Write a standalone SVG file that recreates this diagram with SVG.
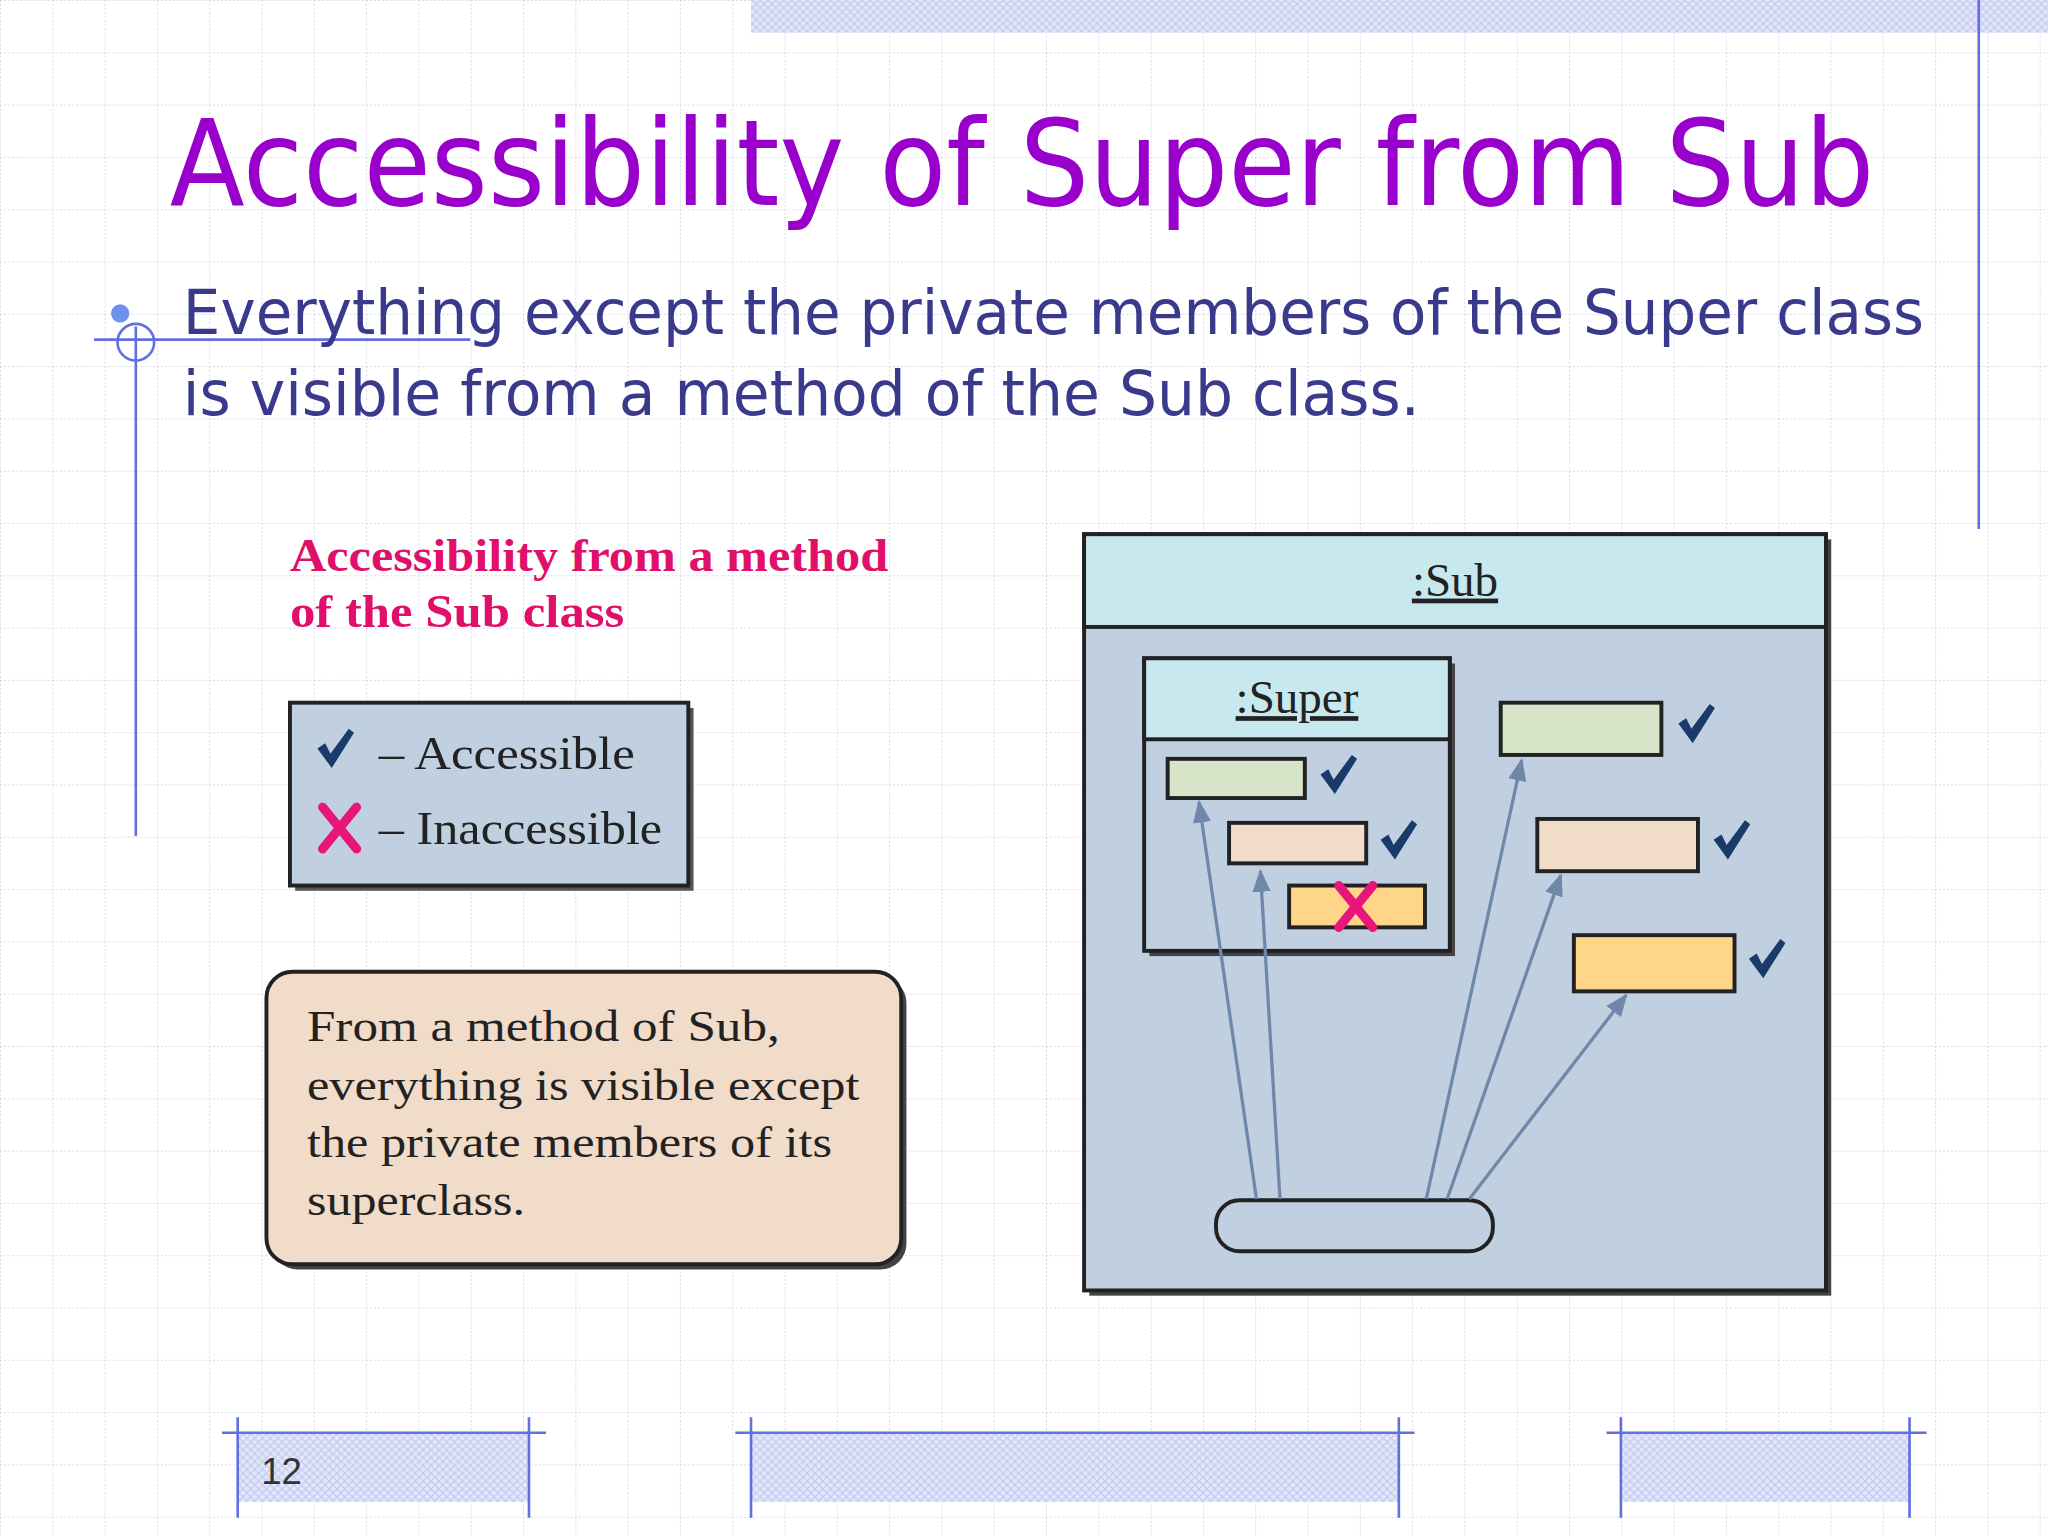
<svg xmlns="http://www.w3.org/2000/svg" width="2048" height="1536" viewBox="0 0 2048 1536">
<defs>
<pattern id="grid" width="52.3" height="52.3" patternUnits="userSpaceOnUse">
<path d="M0 0.5H52.3M0.5 0V52.3" stroke="#D4D8EC" stroke-width="1" stroke-dasharray="2 2" fill="none"/>
</pattern>
<pattern id="hatch" width="6" height="6" patternUnits="userSpaceOnUse">
<rect width="6" height="6" fill="#E4E8FA"/>
<path d="M0 6L6 0M0 0L6 6" stroke="#C4CCF0" stroke-width="1"/>
</pattern>
<path id="chk" d="M0 15 L6 11 L10 19 L24 0 L28 3 L11 30 Z" fill="#1A3A6A"/>
<g id="xx"><path d="M-13 -16 L13 16 M13 -16 L-13 16" stroke="#E8157A" stroke-width="7" stroke-linecap="round"/></g>
<marker id="ah" viewBox="0 0 10 10" refX="9" refY="5" markerWidth="7" markerHeight="7" orient="auto"><path d="M0 1L10 5L0 9Z" fill="#6F87A8"/></marker>
<style>
.box{stroke:#222;stroke-width:3}
.ser{font-family:"Liberation Serif",serif;fill:#222}
.arr{stroke:#6F87A8;stroke-width:2.5;fill:none;marker-end:url(#ah)}
.bl{stroke:#6070E0;stroke-width:2;fill:none}
</style>
</defs>
<rect width="2048" height="1536" fill="#fff"/>
<rect width="2048" height="1536" fill="url(#grid)"/>
<g transform="scale(1.30612)">
<g id="decor">
<rect x="575" y="0" width="993" height="25" fill="url(#hatch)"/>
<line x1="1515" y1="0" x2="1515" y2="405" class="bl"/>
<circle cx="92" cy="240" r="7" fill="#7090F0"/>
<line x1="72" y1="260" x2="360" y2="260" class="bl"/>
<line x1="104" y1="250" x2="104" y2="640" class="bl"/>
<circle cx="104" cy="262" r="14" class="bl"/>
<rect x="182" y="1097" width="223" height="53" fill="url(#hatch)"/>
<path d="M170 1097H418M182 1085V1162M405 1085V1162" class="bl"/>
<rect x="575" y="1097" width="496" height="53" fill="url(#hatch)"/>
<path d="M563 1097H1083M575 1085V1162M1071 1085V1162" class="bl"/>
<rect x="1241" y="1097" width="221" height="53" fill="url(#hatch)"/>
<path d="M1230 1097H1475M1241 1085V1162M1462 1085V1162" class="bl"/>
<text x="200" y="1136" font-family="Liberation Sans,sans-serif" font-size="28" fill="#333">12</text>
</g>
<text x="130" y="157" font-family="DejaVu Sans,sans-serif" font-size="92" fill="#9900CC" textLength="1305" lengthAdjust="spacingAndGlyphs">Accessibility of Super from Sub</text>
<text x="140" y="256" font-family="DejaVu Sans,sans-serif" font-size="48" fill="#3A3A8C" textLength="1333" lengthAdjust="spacingAndGlyphs">Everything except the private members of the Super class</text>
<text x="140" y="318" font-family="DejaVu Sans,sans-serif" font-size="48" fill="#3A3A8C" textLength="947" lengthAdjust="spacingAndGlyphs">is visible from a method of the Sub class.</text>
<g id="heading" font-family="Liberation Serif,serif" font-weight="bold" font-size="35" fill="#E0106A">
<text x="222" y="437" textLength="458" lengthAdjust="spacingAndGlyphs">Accessibility from a method</text>
<text x="222" y="480" textLength="256" lengthAdjust="spacingAndGlyphs">of the Sub class</text>
</g>
<g id="legend">
<rect x="226" y="542" width="305" height="140" fill="#555"/>
<rect x="222" y="538" width="305" height="140" fill="#C0D0E0" class="box"/>
<use href="#chk" x="243" y="558"/>
<use href="#xx" x="260" y="634"/>
<text x="290" y="589" class="ser" font-size="36" textLength="196" lengthAdjust="spacingAndGlyphs">– Accessible</text>
<text x="290" y="646" class="ser" font-size="36" textLength="217" lengthAdjust="spacingAndGlyphs">– Inaccessible</text>
</g>
<g id="note">
<rect x="208" y="748" width="486" height="224" rx="20" fill="#444"/>
<rect x="204" y="744" width="486" height="224" rx="20" fill="#F0DCC8" class="box"/>
<g class="ser" font-size="34">
<text x="235" y="797" textLength="362" lengthAdjust="spacingAndGlyphs">From a method of Sub,</text>
<text x="235" y="842" textLength="423" lengthAdjust="spacingAndGlyphs">everything is visible except</text>
<text x="235" y="886" textLength="402" lengthAdjust="spacingAndGlyphs">the private members of its</text>
<text x="235" y="930" textLength="167" lengthAdjust="spacingAndGlyphs">superclass.</text>
</g>
</g>
<g id="sub">
<rect x="834" y="413" width="568" height="579" fill="#444"/>
<rect x="830" y="409" width="568" height="579" fill="#C0D0E0" class="box"/>
<rect x="830" y="409" width="568" height="71" fill="#C8E8F0" class="box"/>
<text x="1114" y="456" text-anchor="middle" class="ser" font-size="36" text-decoration="underline">:Sub</text>
</g>
<g id="super">
<rect x="880" y="508" width="234" height="224" fill="#444"/>
<rect x="876" y="504" width="234" height="224" fill="#C0D0E0" class="box"/>
<rect x="876" y="504" width="234" height="62" fill="#C8E8F0" class="box"/>
<text x="993" y="546" text-anchor="middle" class="ser" font-size="36" text-decoration="underline">:Super</text>
</g>
<g id="members">
<rect x="894" y="581" width="105" height="30" fill="#D8E4C8" class="box"/>
<use href="#chk" x="1011" y="578"/>
<rect x="941" y="630" width="105" height="31" fill="#F0DCC8" class="box"/>
<use href="#chk" x="1057" y="628"/>
<rect x="987" y="678" width="104" height="32" fill="#FFD58A" class="box"/>
<use href="#xx" x="1038" y="694"/>
<rect x="1149" y="538" width="123" height="40" fill="#D8E4C8" class="box"/>
<use href="#chk" x="1285" y="539"/>
<rect x="1177" y="627" width="123" height="40" fill="#F0DCC8" class="box"/>
<use href="#chk" x="1312" y="628"/>
<rect x="1205" y="716" width="123" height="43" fill="#FFD58A" class="box"/>
<use href="#chk" x="1339" y="719"/>
<rect x="931" y="919" width="212" height="39" rx="18" fill="#C0D0E0" class="box"/>
</g>
<g id="connectors">
<line x1="962" y1="918" x2="918" y2="614" class="arr"/>
<line x1="980" y1="918" x2="965" y2="667" class="arr"/>
<line x1="1092" y1="918" x2="1165" y2="582" class="arr"/>
<line x1="1108" y1="918" x2="1195" y2="670" class="arr"/>
<line x1="1125" y1="918" x2="1245" y2="762" class="arr"/>
</g>
</g>
</svg>
